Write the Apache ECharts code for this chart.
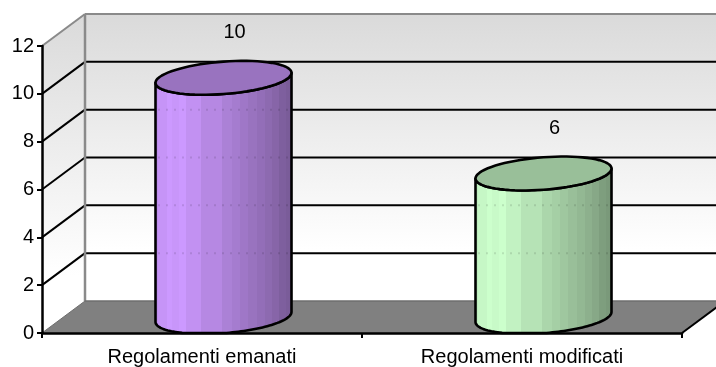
<!DOCTYPE html>
<html><head><meta charset="utf-8">
<style>html,body{margin:0;padding:0;background:#fff}#c{width:716px;height:367px}</style>
<script src="https://cdn.jsdelivr.net/npm/echarts@6/dist/echarts.min.js"></script>
</head><body><div id="c"></div>
<script>
var categories = ['Regolamenti emanati', 'Regolamenti modificati'];
var values = [10, 6];
var yTicks = [0, 2, 4, 6, 8, 10, 12];
var baseColors = [[204, 153, 255], [204, 255, 204]];

var DX = 43, DY = 32, HALF_W = 68, SKEW = 5, MINOR = 16.2;
var FONT = '"Liberation Sans", Arial, sans-serif';
var BAND_EDGES = [0,.03,.09,.13,.18,.23,.34,.49,.56,.62,.68,.74,.80,.85,.90,.95,1];
var BAND_SHADE = [.93,.97,1,.98,1,.95,.89,.84,.81,.78,.75,.72,.69,.66,.62,.6];

function shade(c, f) { return 'rgb(' + c.map(function (v) { return Math.round(v * f); }).join(',') + ')'; }
function bandGradient(c) {
  var stops = [];
  BAND_SHADE.forEach(function (f, i) {
    stops.push({ offset: BAND_EDGES[i], color: shade(c, f) });
    stops.push({ offset: BAND_EDGES[i + 1], color: shade(c, f) });
  });
  return new echarts.graphic.LinearGradient(0, 0, 1, 0, stops);
}
function ellipse(cx, cy, from, to, maxY) {
  var pts = [], n = 72;
  for (var i = 0; i <= n; i++) {
    var t = from + (to - from) * i / n;
    var y = cy - SKEW * Math.cos(t) + MINOR * Math.sin(t);
    pts.push([cx + HALF_W * Math.cos(t), maxY === undefined ? y : Math.min(y, maxY)]);
  }
  return pts;
}

function renderBackdrop(params, api) {
  var cs = params.coordSys;
  var x0 = cs.x, x1 = cs.x + cs.width, yTop = api.coord([0, yTicks[yTicks.length - 1]])[1], yBase = api.coord([0, 0])[1];
  var wall = new echarts.graphic.LinearGradient(0, 0, 0, 1, [
    { offset: 0, color: '#dadada' }, { offset: .82, color: '#ffffff' }, { offset: 1, color: '#ffffff' }]);
  var kids = [
    { type: 'rect', shape: { x: x0 + DX, y: yTop - DY, width: cs.width + 10, height: yBase - yTop }, style: { fill: wall } },
    { type: 'polygon', shape: { points: [[x0, yTop], [x0 + DX, yTop - DY], [x0 + DX, yBase - DY], [x0, yBase]] }, style: { fill: wall } },
    { type: 'polygon', shape: { points: [[x0, yBase], [x0 + DX, yBase - DY], [x1 + DX, yBase - DY], [x1, yBase]] }, style: { fill: '#808080' } }
  ];
  yTicks.forEach(function (v) {
    var y = api.coord([0, v])[1];
    if (v > 0 && v < yTicks[yTicks.length - 1]) {
      kids.push({ type: 'line', shape: { x1: x0, y1: y, x2: x0 + DX, y2: y - DY }, style: { stroke: '#000', lineWidth: 2 } });
      kids.push({ type: 'line', shape: { x1: x0 + DX, y1: y - DY, x2: x1 + DX, y2: y - DY }, style: { stroke: '#000', lineWidth: 2 } });
    }
  });
  var gray = { stroke: '#8a8a8a', lineWidth: 2 };
  kids.push({ type: 'line', shape: { x1: x0, y1: yTop, x2: x0 + DX, y2: yTop - DY }, style: gray });
  kids.push({ type: 'line', shape: { x1: x0 + DX, y1: yTop - DY, x2: x1 + DX, y2: yTop - DY }, style: gray });
  kids.push({ type: 'line', shape: { x1: x0 + DX, y1: yTop - DY, x2: x0 + DX, y2: yBase - DY }, style: { stroke: '#8a8a8a', lineWidth: 2.5 } });
  kids.push({ type: 'line', shape: { x1: x0, y1: yBase, x2: x0 + DX, y2: yBase - DY }, style: { stroke: '#6e6e6e', lineWidth: 1 } });
  kids.push({ type: 'line', shape: { x1: x0 + DX, y1: yBase - DY, x2: x1 + DX, y2: yBase - DY }, style: { stroke: '#6e6e6e', lineWidth: 1.5 } });
  kids.push({ type: 'line', shape: { x1: x1, y1: yBase, x2: x1 + DX, y2: yBase - DY }, style: { stroke: '#000', lineWidth: 2 } });
  return { type: 'group', children: kids };
}

function renderCylinder(params, api) {
  var i = api.value(0), v = api.value(1);
  var base = api.coord([i, 0]), top = api.coord([i, v]);
  var cx = base[0] + DX / 2, by = base[1] - DY / 2, ty = top[1] - DY / 2;
  var c = baseColors[i];
  var body = ellipse(cx, by, Math.PI, 0, base[1]).concat(ellipse(cx, ty, 0, Math.PI));
  var kids = [
    { type: 'polygon', shape: { points: body },
      style: { fill: bandGradient(c), stroke: '#000', lineWidth: 2.6, lineJoin: 'round' } }
  ];
  yTicks.forEach(function (t) {
    var y = api.coord([0, t])[1] - DY;
    if (t > 0 && t < v) {
      kids.push({ type: 'line', shape: { x1: cx - HALF_W + 3, y1: y, x2: cx + HALF_W - 3, y2: y },
        style: { stroke: 'rgba(0,0,0,0.22)', lineWidth: 2, lineDash: [1, 7] } });
    }
  });
  kids.push({ type: 'polygon', shape: { points: ellipse(cx, ty, 0, Math.PI * 2) },
    style: { fill: shade(c, .75), stroke: '#000', lineWidth: 2.6, lineJoin: 'round' } });
  kids.push({ type: 'text', style: { x: cx + 11, y: ty - 45, text: String(v), fill: '#000', font: '20px ' + FONT, align: 'center', verticalAlign: 'middle' } });
  return { type: 'group', children: kids };
}

var chart = echarts.init(document.getElementById('c'), null, { renderer: 'canvas' });
chart.setOption({
  animation: false,
  backgroundColor: '#fff',
  grid: { left: 42, right: 34, top: 46, bottom: 33 },
  xAxis: { type: 'category', data: categories, boundaryGap: true,
    axisLine: { lineStyle: { color: '#000', width: 2.5 } },
    axisTick: { show: true, length: 5, alignWithLabel: false, lineStyle: { color: '#000', width: 2 } },
    axisLabel: { color: '#000', fontFamily: FONT, fontSize: 20, margin: 14, interval: 0 } },
  yAxis: { type: 'value', min: 0, max: 12, interval: 2,
    axisLine: { show: true, lineStyle: { color: '#000', width: 2.5 } },
    axisTick: { show: true, length: 5, lineStyle: { color: '#000', width: 2 } },
    axisLabel: { color: '#000', fontFamily: FONT, fontSize: 20, margin: 8 },
    splitLine: { show: false } },
  series: [
    { type: 'custom', z: -1, silent: true, clip: false, renderItem: renderBackdrop, data: [[0, 0]], encode: { x: 0, y: 1 } },
    { type: 'custom', z: 3, silent: true, clip: false, renderItem: renderCylinder,
      data: values.map(function (v, i) { return [i, v]; }), encode: { x: 0, y: 1 } }
  ]
});
</script></body></html>
